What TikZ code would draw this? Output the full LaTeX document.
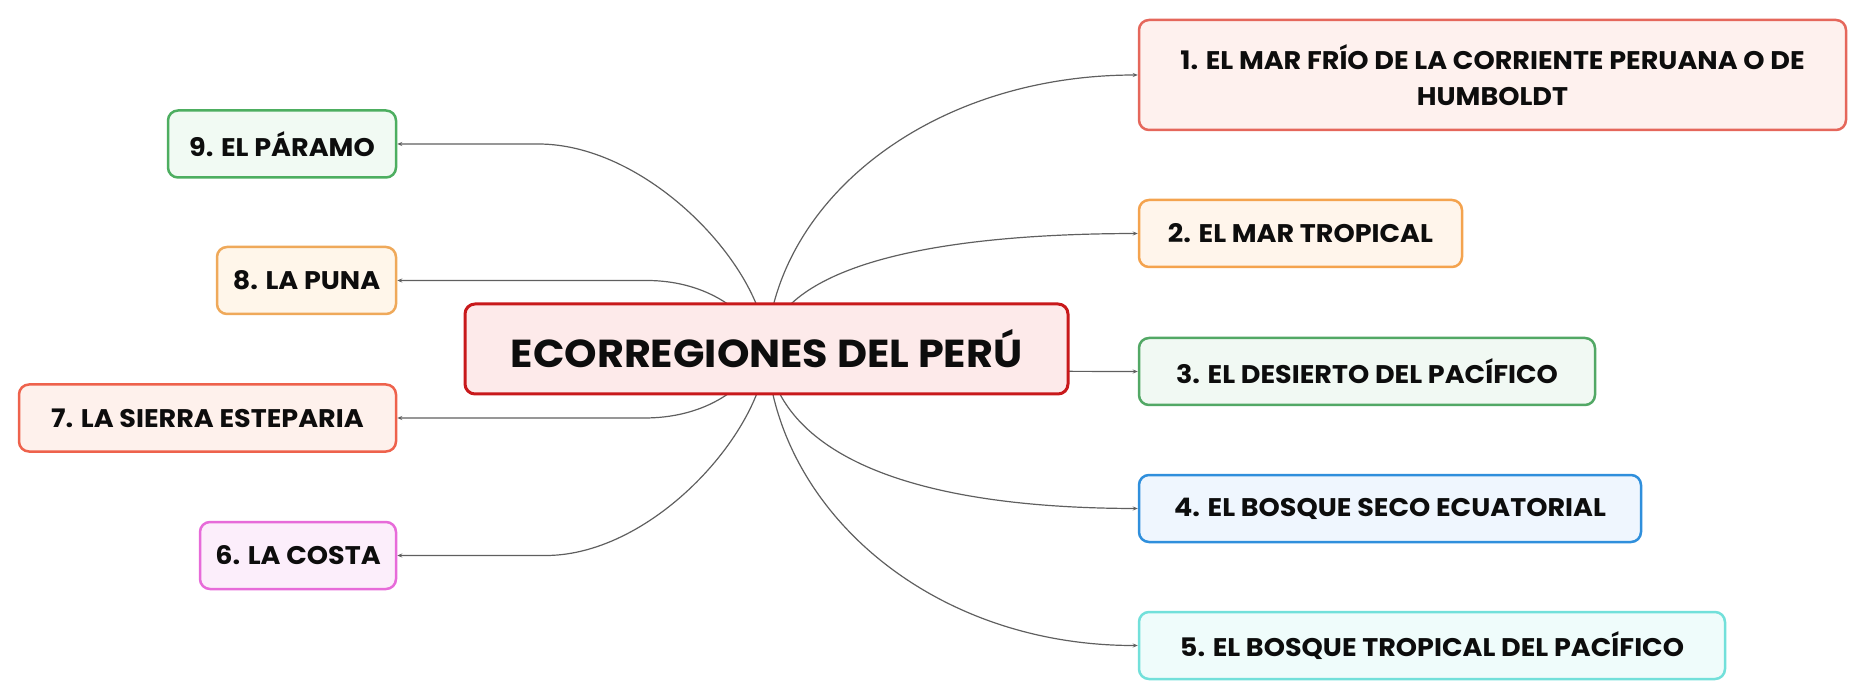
\documentclass[tikz,border=0pt]{standalone}
\usepackage{fontspec}
\setmainfont{Poppins}[FakeStretch=1.06]
\usetikzlibrary{arrows.meta,calc}
\pgfdeclarelayer{bg}
\pgfsetlayers{bg,main}
\definecolor{linec}{HTML}{5F5F5F}
\definecolor{rootd}{HTML}{C8191B}\definecolor{rootf}{HTML}{FDEAEA}
\definecolor{c1d}{HTML}{E5675B}\definecolor{c1f}{HTML}{FEF1EE}
\definecolor{c2d}{HTML}{F4A34E}\definecolor{c2f}{HTML}{FFF5EB}
\definecolor{c3d}{HTML}{52A865}\definecolor{c3f}{HTML}{F1F9F3}
\definecolor{c4d}{HTML}{2F8FDC}\definecolor{c4f}{HTML}{EFF6FE}
\definecolor{c5d}{HTML}{72E0DA}\definecolor{c5f}{HTML}{EFFCFB}
\definecolor{c6d}{HTML}{E76BD9}\definecolor{c6f}{HTML}{FCEEFB}
\definecolor{c7d}{HTML}{EE624C}\definecolor{c7f}{HTML}{FEF1EC}
\definecolor{c8d}{HTML}{EFA95A}\definecolor{c8f}{HTML}{FFF6EA}
\definecolor{c9d}{HTML}{4DAE60}\definecolor{c9f}{HTML}{F1FAF3}
\begin{document}
\begin{tikzpicture}[x=1pt,y=-1pt,
  topic/.style={draw, rounded corners=10pt, line width=2.5pt, align=center,
    inner sep=0pt, minimum height=67pt, text=black!95,
    font=\fontsize{25.5}{36}\selectfont\bfseries},
  rootbox/.style={topic, line width=3pt, minimum width=603pt, minimum height=90pt,
    font=\fontsize{39}{44}\selectfont\bfseries},
  conn/.style={draw=linec, line width=1.2pt, -{Stealth[length=5pt,width=4pt]}}]
\useasboundingbox (0,0) rectangle (1866,700);
\node[rootbox, draw=rootd, fill=rootf] (root) at (766.5,349) {ECORREGIONES DEL PERÚ};
\node[topic, draw=c1d, fill=c1f, minimum width=707pt, minimum height=110pt] (b1) at (1492.5,75) {1. EL MAR FRÍO DE LA CORRIENTE PERUANA O DE\\HUMBOLDT};
\node[topic, draw=c2d, fill=c2f, minimum width=323pt] (b2) at (1300.5,233.5) {2. EL MAR TROPICAL};
\node[topic, draw=c3d, fill=c3f, minimum width=456pt] (b3) at (1367,371.5) {3. EL DESIERTO DEL PACÍFICO};
\node[topic, draw=c4d, fill=c4f, minimum width=502pt] (b4) at (1390,508.5) {4. EL BOSQUE SECO ECUATORIAL};
\node[topic, draw=c5d, fill=c5f, minimum width=586pt] (b5) at (1432,645.5) {5. EL BOSQUE TROPICAL DEL PACÍFICO};
\node[topic, draw=c9d, fill=c9f, minimum width=228pt] (b9) at (282,144) {9. EL PÁRAMO};
\node[topic, draw=c8d, fill=c8f, minimum width=179pt] (b8) at (306.5,280.5) {8. LA PUNA};
\node[topic, draw=c7d, fill=c7f, minimum width=377pt] (b7) at (207.5,418) {7. LA SIERRA ESTEPARIA};
\node[topic, draw=c6d, fill=c6f, minimum width=196pt] (b6) at (298,555.5) {6. LA COSTA};
\begin{pgfonlayer}{bg}
\draw[conn] (root.center) .. controls (775,200) and (930,75) .. (b1.west);
\draw[conn] (root.center) .. controls (775,283) and (880,234) .. (b2.west);
\draw[conn] (root.center) .. controls (800,371) and (900,371) .. (b3.west);
\draw[conn] (root.center) .. controls (775,440) and (880,508) .. (b4.west);
\draw[conn] (root.center) .. controls (775,509) and (930,646) .. (b5.west);
\draw[conn] (root.center) .. controls (766,270) and (650,144) .. ($(b9.east)+(141,0)$) -- (b9.east);
\draw[conn] (root.center) .. controls (745,305) and (700,281) .. ($(b8.east)+(251,0)$) -- (b8.east);
\draw[conn] (root.center) .. controls (745,393) and (700,418) .. ($(b7.east)+(247,0)$) -- (b7.east);
\draw[conn] (root.center) .. controls (766,428) and (655,555) .. ($(b6.east)+(149,0)$) -- (b6.east);
\end{pgfonlayer}
\end{tikzpicture}
\end{document}
